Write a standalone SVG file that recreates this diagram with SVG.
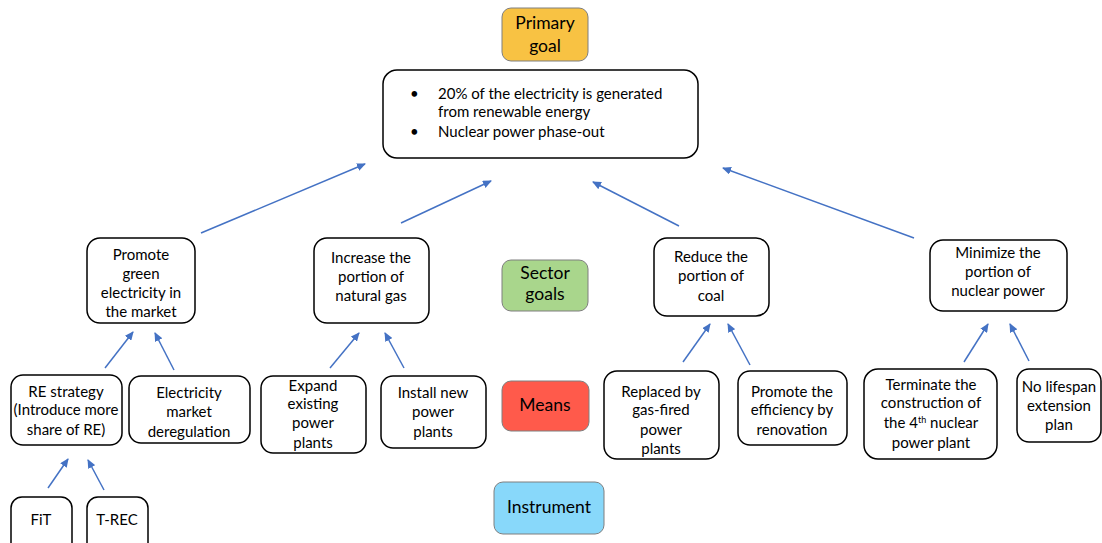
<svg xmlns="http://www.w3.org/2000/svg" width="1102" height="543" viewBox="0 0 1102 543">
  <style>
    .box { fill: #ffffff; stroke: #000000; stroke-width: 1.5; }
    .tag { stroke: #7f7f7f; stroke-width: 1; }
    .t { font-family: Lato, "Liberation Sans", sans-serif; font-size: 15px; fill: #000000; text-anchor: middle; }
    .tl { font-family: Lato, "Liberation Sans", sans-serif; font-size: 15px; fill: #000000; }
    .big { font-family: Lato, "Liberation Sans", sans-serif; font-size: 17.5px; fill: #000000; text-anchor: middle; }
    .edge { stroke: #4472C4; stroke-width: 1.5; fill: none; marker-end: url(#arrow); }
  </style>
  <defs>
    <marker id="arrow" markerWidth="9" markerHeight="8" refX="8" refY="4" orient="auto" markerUnits="userSpaceOnUse">
      <path d="M0,0 L9,4 L0,8 Z" fill="#4472C4"/>
    </marker>
  </defs>
  <rect width="1102" height="543" fill="#ffffff"/>

  <!-- level labels -->
  <g id="label-primary">
    <rect class="tag" x="502" y="8" width="86" height="53" rx="9" fill="#F8C243"/>
    <text class="big" x="545" y="29">Primary</text>
    <text class="big" x="545" y="52">goal</text>
  </g>
  <g id="label-sector">
    <rect class="tag" x="502" y="260" width="86" height="51" rx="9" fill="#A9D68C"/>
    <text class="big" x="545" y="279">Sector</text>
    <text class="big" x="545" y="300">goals</text>
  </g>
  <g id="label-means">
    <rect class="tag" x="502" y="381" width="87" height="50" rx="9" fill="#FF5A4B"/>
    <text class="big" x="545" y="411">Means</text>
  </g>
  <g id="label-instrument">
    <rect class="tag" x="494" y="482" width="110" height="52" rx="9" fill="#88D8FA"/>
    <text class="big" x="549" y="513">Instrument</text>
  </g>

  <!-- primary goal -->
  <g id="primary-goal">
    <rect class="box" x="383" y="70" width="315" height="88" rx="14"/>
    <text class="tl" x="410" y="99" font-size="12">•</text>
    <text class="tl" x="438" y="99">20% of the electricity is generated</text>
    <text class="tl" x="438" y="117">from renewable energy</text>
    <text class="tl" x="410" y="137" font-size="12">•</text>
    <text class="tl" x="438" y="137">Nuclear power phase-out</text>
  </g>

  <!-- sector goals -->
  <g id="sector-green">
    <rect class="box" x="87" y="238" width="108" height="85" rx="13"/>
    <text class="t" x="141" y="260">Promote</text>
    <text class="t" x="141" y="279">green</text>
    <text class="t" x="141" y="298">electricity in</text>
    <text class="t" x="141" y="317">the market</text>
  </g>
  <g id="sector-gas">
    <rect class="box" x="314" y="238" width="115" height="85" rx="13"/>
    <text class="t" x="371" y="263">Increase the</text>
    <text class="t" x="371" y="282">portion of</text>
    <text class="t" x="371" y="301">natural gas</text>
  </g>
  <g id="sector-coal">
    <rect class="box" x="654" y="238" width="115" height="78" rx="13"/>
    <text class="t" x="711" y="262">Reduce the</text>
    <text class="t" x="711" y="281">portion of</text>
    <text class="t" x="711" y="301">coal</text>
  </g>
  <g id="sector-nuclear">
    <rect class="box" x="930" y="240" width="137" height="71" rx="13"/>
    <text class="t" x="998" y="258">Minimize the</text>
    <text class="t" x="998" y="277">portion of</text>
    <text class="t" x="998" y="296">nuclear power</text>
  </g>

  <!-- means -->
  <g id="means-re">
    <rect class="box" x="11" y="375" width="111" height="70" rx="12"/>
    <text class="t" x="66" y="397">RE strategy</text>
    <text class="t" x="66" y="415">(Introduce more</text>
    <text class="t" x="66" y="435">share of RE)</text>
  </g>
  <g id="means-dereg">
    <rect class="box" x="129" y="376" width="121" height="67" rx="12"/>
    <text class="t" x="189" y="398">Electricity</text>
    <text class="t" x="189" y="417">market</text>
    <text class="t" x="189" y="437">deregulation</text>
  </g>
  <g id="means-expand">
    <rect class="box" x="261" y="376" width="105" height="77" rx="12"/>
    <text class="t" x="313" y="391">Expand</text>
    <text class="t" x="313" y="409">existing</text>
    <text class="t" x="313" y="428">power</text>
    <text class="t" x="313" y="448">plants</text>
  </g>
  <g id="means-install">
    <rect class="box" x="381" y="376" width="105" height="72" rx="12"/>
    <text class="t" x="433" y="398">Install new</text>
    <text class="t" x="433" y="417">power</text>
    <text class="t" x="433" y="437">plants</text>
  </g>
  <g id="means-replace">
    <rect class="box" x="604" y="371" width="115" height="88" rx="13"/>
    <text class="t" x="661" y="397">Replaced by</text>
    <text class="t" x="661" y="415">gas-fired</text>
    <text class="t" x="661" y="435">power</text>
    <text class="t" x="661" y="454">plants</text>
  </g>
  <g id="means-efficiency">
    <rect class="box" x="738" y="371" width="109" height="74" rx="12"/>
    <text class="t" x="792" y="397">Promote the</text>
    <text class="t" x="792" y="415">efficiency by</text>
    <text class="t" x="792" y="435">renovation</text>
  </g>
  <g id="means-terminate">
    <rect class="box" x="864" y="369" width="133" height="90" rx="14"/>
    <text class="t" x="931" y="390">Terminate the</text>
    <text class="t" x="931" y="408">construction of</text>
    <text class="t" x="931" y="428">the 4<tspan font-size="9" dy="-5">th</tspan><tspan dy="5"> nuclear</tspan></text>
    <text class="t" x="931" y="448">power plant</text>
  </g>
  <g id="means-lifespan">
    <rect class="box" x="1017" y="369" width="84" height="73" rx="12"/>
    <text class="t" x="1059" y="392">No lifespan</text>
    <text class="t" x="1059" y="411">extension</text>
    <text class="t" x="1059" y="430">plan</text>
  </g>

  <!-- instruments -->
  <g id="inst-fit">
    <rect class="box" x="11" y="497" width="61" height="60" rx="11"/>
    <text class="t" x="41" y="525">FiT</text>
  </g>
  <g id="inst-trec">
    <rect class="box" x="87" y="497" width="61" height="60" rx="11"/>
    <text class="t" x="117" y="525">T-REC</text>
  </g>

  <!-- connectors -->
  <g id="connectors">
    <line class="edge" x1="201" y1="233" x2="365" y2="164"/>
    <line class="edge" x1="401" y1="223" x2="491" y2="181"/>
    <line class="edge" x1="679" y1="226" x2="593" y2="182"/>
    <line class="edge" x1="914" y1="238" x2="723" y2="168"/>

    <line class="edge" x1="105" y1="368" x2="133" y2="332"/>
    <line class="edge" x1="174" y1="370" x2="155" y2="333"/>
    <line class="edge" x1="330" y1="368" x2="359" y2="333"/>
    <line class="edge" x1="404" y1="368" x2="385" y2="333"/>
    <line class="edge" x1="683" y1="362" x2="710" y2="324"/>
    <line class="edge" x1="750" y1="365" x2="728" y2="324"/>
    <line class="edge" x1="964" y1="362" x2="988" y2="324"/>
    <line class="edge" x1="1029" y1="361" x2="1010" y2="324"/>

    <line class="edge" x1="48" y1="488" x2="68" y2="459"/>
    <line class="edge" x1="104" y1="490" x2="88" y2="460"/>
  </g>
</svg>
